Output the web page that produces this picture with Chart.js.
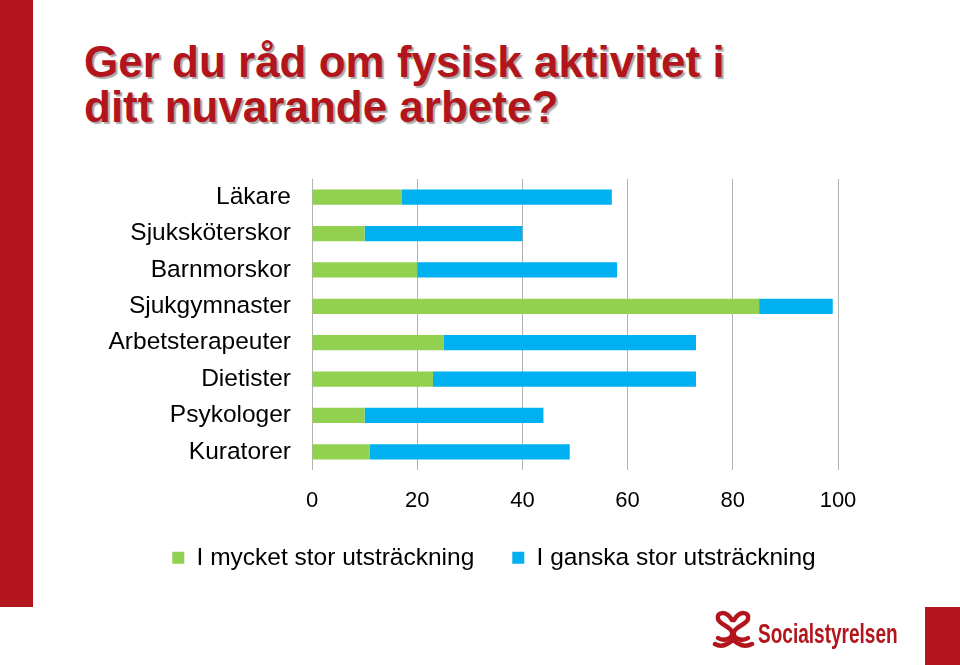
<!DOCTYPE html>
<html>
<head>
<meta charset="utf-8">
<script src="https://cdn.jsdelivr.net/npm/chart.js@4/dist/chart.umd.min.js"></script>
<style>
  html, body { margin: 0; padding: 0; background: #fff; }
  #wrap { position: relative; width: 960px; height: 665px; overflow: hidden; background: #fff; }
  #leftbar { position: absolute; left: 0; top: 0; width: 33px; height: 607px; background: #B2161C; }
  #corner { position: absolute; left: 925px; top: 607px; width: 35px; height: 58px; background: #B2161C; }
  #title { position: absolute; left: 84px; top: 39px; font-family: "Liberation Sans", Arial, sans-serif;
           font-weight: bold; font-size: 44px; line-height: 45px; color: #B2161C;
           text-shadow: 2px 2px 1px #a9a9a9; white-space: nowrap; }
  #chartbox { position: absolute; left: 0; top: 0; width: 960px; height: 665px; }
  #logo { position: absolute; left: 712px; top: 606px; }
  #logotext { position: absolute; left: 758px; top: 621px; font-family: "Liberation Sans", Arial, sans-serif;
              font-weight: bold; font-size: 27px; line-height: 27px; color: #B2161C; white-space: nowrap;
              transform: scaleX(0.705); transform-origin: 0 0; }
</style>
</head>
<body>
<div id="wrap">
  <div id="leftbar"></div>
  <div id="corner"></div>
  <div id="title">Ger du råd om fysisk aktivitet i<br>ditt nuvarande arbete?</div>
  <div id="chartbox"><canvas id="c" width="960" height="665"></canvas></div>
  <svg id="logo" viewBox="0 0 44 44" width="44" height="44">
    <g fill="none" stroke="#B2161C" stroke-width="4.5" stroke-linecap="round">
      <path d="M20 14 C14 4, 4 6, 6 13 C8 19, 18 20, 20 26 C22 32, 12 36, 6 32"/>
      <path d="M22 14 C28 4, 38 6, 36 13 C34 19, 24 20, 22 26 C20 32, 30 36, 36 32"/>
      <path d="M3 38 C10 42, 16 38, 21 34 C26 38, 32 42, 40 38"/>
    </g>
  </svg>
  <div id="logotext">Socialstyrelsen</div>
</div>
<script>
const categories = ["Läkare", "Sjuksköterskor", "Barnmorskor", "Sjukgymnaster", "Arbetsterapeuter", "Dietister", "Psykologer", "Kuratorer"];
const seriesNames = ["I mycket stor utsträckning", "I ganska stor utsträckning"];
const mycketStor = [17, 10, 20, 85, 25, 23, 10, 11];
const ganskaStor = [40, 30, 38, 14, 48, 50, 34, 38];
const xTicks = [0, 20, 40, 60, 80, 100];

const FONT = '"Liberation Sans", Arial, sans-serif';

new Chart(document.getElementById('c'), {
  type: 'bar',
  data: {
    labels: categories,
    datasets: [
      { label: seriesNames[0], data: mycketStor, backgroundColor: '#92D050', borderWidth: 0 },
      { label: seriesNames[1], data: ganskaStor, backgroundColor: '#00B0F0', borderWidth: 0 }
    ]
  },
  options: {
    indexAxis: 'y',
    responsive: false,
    animation: false,
    devicePixelRatio: 1,
    layout: { padding: { left: 28, right: 0, top: 179, bottom: 85 } },
    datasets: { bar: { categoryPercentage: 1, barPercentage: 0.42 } },
    scales: {
      x: {
        stacked: true,
        min: 0, max: 100,
        afterBuildTicks: (s) => { s.ticks = xTicks.map(v => ({ value: v })); },
        afterFit: (s) => { s.height = 37.5; },
        grid: { color: '#b3b3b3', lineWidth: 1, drawTicks: false },
        border: { display: false },
        ticks: { padding: 18, color: '#000', font: { family: FONT, size: 22 } }
      },
      y: {
        stacked: true,
        afterFit: (s) => { s.width = 284; },
        grid: { display: false, drawTicks: false },
        border: { display: false },
        ticks: { padding: 21, color: '#000', font: { family: FONT, size: 24.5 } }
      },
      yRight: {
        type: 'category',
        position: 'right',
        afterFit: (s) => { s.width = 122; },
        grid: { display: false, drawTicks: false },
        border: { display: false },
        ticks: { display: false }
      }
    },
    plugins: {
      legend: {
        position: 'bottom',
        labels: { boxWidth: 12, boxHeight: 12, padding: 38, color: '#000', font: { family: FONT, size: 24.5 } }
      },
      tooltip: { enabled: false }
    }
  }
});
</script>
</body>
</html>
